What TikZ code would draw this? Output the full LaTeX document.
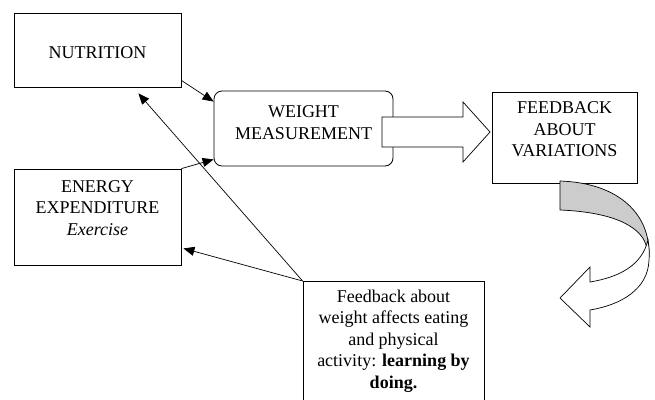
\documentclass[tikz,border=0pt]{standalone}
\usepackage{fontspec}
\setmainfont{Liberation Serif}
\usetikzlibrary{arrows.meta}
\begin{document}
\begin{tikzpicture}[x=1pt,y=-1pt,
  box/.style={draw, line width=0.8pt, inner sep=0pt},
  txt/.style={align=center, inner sep=0pt, font=\fontsize{18}{21.5}\selectfont},
  conn/.style={line width=0.7pt, -{Triangle[length=11pt,width=9pt]}},
  shapeline/.style={line width=0.7pt, line join=miter}]
\useasboundingbox (0,0) rectangle (655,399);
% boxes
\node[box, minimum width=167pt, minimum height=74pt] (nutrition) at (97.5,50) {};
\node[txt] (nutritiont) at (97.5,53) {NUTRITION};
\node[box, minimum width=167pt, minimum height=96pt] (energy) at (97.5,217) {};
\node[txt] (energyt) at (97.5,208) {ENERGY\\EXPENDITURE\\\textit{Exercise}};
\node[box, rounded corners=8pt, minimum width=179pt, minimum height=75pt] (weight) at (303.5,128.5) {};
\node[txt] (weightt) at (303.5,122.5) {WEIGHT\\MEASUREMENT};
% block arrow
\draw[shapeline, fill=white] (382,117) -- (463,117) -- (463,102) -- (490,132) -- (463,162) -- (463,147) -- (382,147) -- cycle;
\node[box, minimum width=145pt, minimum height=91pt] (feedback) at (564.5,137.5) {};
\node[txt] (feedbackt) at (564.5,129.5) {FEEDBACK\\ABOUT\\VARIATIONS};
% curved arrow
\draw[shapeline, fill=gray!40] (560,181) .. controls (620,183) and (650,215) .. (649,255) -- (646,245) .. controls (640,225) and (610,212) .. (560,210) -- cycle;
\draw[shapeline, fill=white] (648,240) .. controls (642,265) and (620,277) .. (590,282) -- (590,267) -- (560,298) -- (590,327) -- (590,310) .. controls (620,305) and (648,290) .. (649,260) .. controls (649.5,252) .. (648,240) -- cycle;
% bottom box
\node[box, minimum width=181pt, minimum height=140pt, anchor=north] (fbk) at (393.5,281) {};
\node[txt] (fbkt) at (393.5,341) {Feedback about\\weight affects eating\\and physical\\activity: \textbf{learning by}\\\textbf{doing.}};
% connectors
\draw[conn] ([yshift=7pt]nutrition.south east) -- ([yshift=-11pt]weight.north west);
\draw[conn] (energy.north east) -- ([yshift=7pt]weight.south west);
\draw[conn] (fbk.north west) -- ([xshift=-43pt,yshift=-6pt]nutrition.south east);
\draw[conn] (fbk.north west) -- ([xshift=2pt,yshift=17pt]energy.south east);
\end{tikzpicture}
\end{document}
